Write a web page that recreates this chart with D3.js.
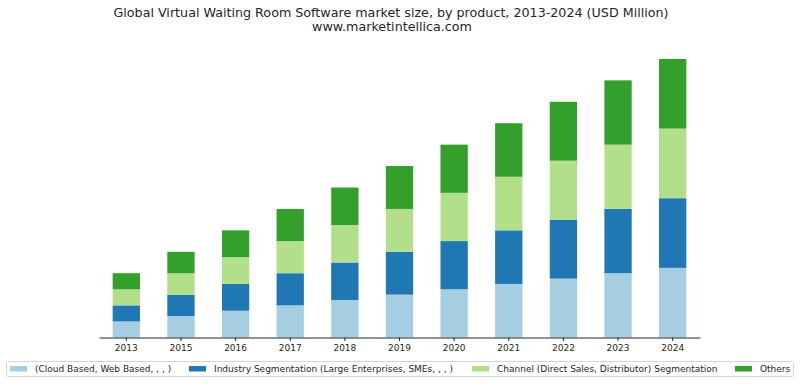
<!DOCTYPE html>
<html>
<head>
<meta charset="utf-8">
<script src="https://cdn.jsdelivr.net/npm/d3@7"></script>
<style>
  body { margin: 0; background: #fff; }
  text { font-family: "DejaVu Sans", sans-serif; fill: #262626; }
</style>
</head>
<body>
<div class="chart"></div>
<script>
const width = 800;
const height = 384;

// data (USD Million, arbitrary units)
const years = ["2013", "2015", "2016", "2017", "2018", "2019", "2020", "2021", "2022", "2023", "2024"];
const cloudBased = [3, 4, 5, 6, 7, 8, 9, 10, 11, 12, 13];
const industrySeg = [3, 4, 5, 6, 7, 8, 9, 10, 11, 12, 13];
const channelSeg = [3, 4, 5, 6, 7, 8, 9, 10, 11, 12, 13];
const others = [3, 4, 5, 6, 7, 8, 9, 10, 11, 12, 13];

const seriesNames = [
    "(Cloud Based, Web Based, , , )",
    "Industry Segmentation (Large Enterprises, SMEs, , , )",
    "Channel (Direct Sales, Distributor) Segmentation",
    "Others"
];
const colors = ["#a6cee3", "#1f78b4", "#b2df8a", "#33a02c"];

const table = years.map((y, i) => ({
    year: y,
    s0: cloudBased[i],
    s1: industrySeg[i],
    s2: channelSeg[i],
    s3: others[i]
}));
const keys = ["s0", "s1", "s2", "s3"];
const stacked = d3.stack().keys(keys)(table);

const svg = d3.select(".chart")
    .append("svg")
        .attr("width", width)
        .attr("height", height);

// title
svg.append("text")
    .attr("x", 391)
    .attr("y", 17)
    .attr("text-anchor", "middle")
    .attr("font-size", 12.7)
    .attr("fill", "#1a1a1a")
    .text("Global Virtual Waiting Room Software market size, by product, 2013-2024 (USD Million)");
svg.append("text")
    .attr("x", 392)
    .attr("y", 31)
    .attr("text-anchor", "middle")
    .attr("font-size", 12.7)
    .attr("fill", "#1a1a1a")
    .text("www.marketintellica.com");

const x = d3.scaleBand()
    .domain(years)
    .range([99, 700])
    .paddingInner(0.5)
    .paddingOuter(0.25);

const maxTotal = d3.max(stacked[stacked.length - 1], d => d[1]);
const y = d3.scaleLinear()
    .domain([0, maxTotal * 1.05])
    .range([337.5, 45]);

svg.append("g")
    .selectAll("g")
    .data(stacked)
    .join("g")
        .attr("fill", (d, i) => colors[i])
    .selectAll("rect")
    .data(d => d)
    .join("rect")
        .attr("x", d => x(d.data.year))
        .attr("width", x.bandwidth())
        .attr("y", d => y(d[1]))
        .attr("height", d => y(d[0]) - y(d[1]));

const xAxis = svg.append("g")
    .attr("transform", "translate(0," + 337.5 + ")")
    .call(d3.axisBottom(x).tickSize(3.5).tickPadding(3.5).tickSizeOuter(0));
xAxis.select(".domain").attr("stroke", "#262626").attr("stroke-width", 1);
xAxis.selectAll(".tick line").attr("stroke", "#262626");
xAxis.selectAll(".tick text")
    .attr("font-family", "DejaVu Sans")
    .attr("font-size", 9)
    .attr("fill", "#262626");

// legend
const legend = svg.append("g");
legend.append("rect")
    .attr("x", 6.5)
    .attr("y", 361.5)
    .attr("width", 787)
    .attr("height", 15)
    .attr("rx", 2)
    .attr("fill", "#fff")
    .attr("stroke", "#d6d6d6");

const legendX = [10, 189, 472, 735];
const item = legend.selectAll("g.item")
    .data(seriesNames)
    .join("g")
        .attr("class", "item")
        .attr("transform", (d, i) => "translate(" + legendX[i] + ",0)");
item.append("rect")
    .attr("y", 366)
    .attr("width", 17)
    .attr("height", 5.5)
    .attr("fill", (d, i) => colors[i]);
item.append("text")
    .attr("x", 25)
    .attr("y", 372)
    .attr("font-size", 9)
    .text(d => d);
</script>
</body>
</html>
